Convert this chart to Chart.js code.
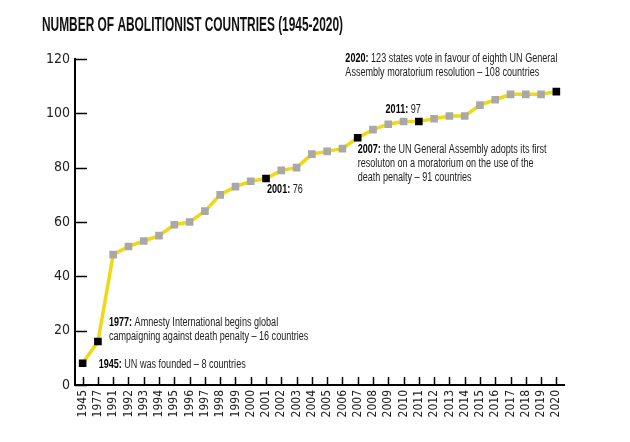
<!DOCTYPE html>
<html>
<head>
<meta charset="utf-8">
<script src="https://cdn.jsdelivr.net/npm/chart.js@4/dist/chart.umd.min.js"></script>
<style>
  html, body { margin: 0; padding: 0; background: #fff; }
  #wrap { width: 630px; height: 442px; position: relative; }
</style>
</head>
<body>
<div id="wrap"><canvas id="chart" width="630" height="442"></canvas></div>
<script>
// Data
const chartTitle = 'NUMBER OF ABOLITIONIST COUNTRIES (1945-2020)';
const years = ['1945', '1977', '1991', '1992', '1993', '1994', '1995', '1996', '1997', '1998',
  '1999', '2000', '2001', '2002', '2003', '2004', '2005', '2006', '2007', '2008', '2009',
  '2010', '2011', '2012', '2013', '2014', '2015', '2016', '2017', '2018', '2019', '2020'];
const abolitionist = [8, 16, 48, 51, 53, 55, 59, 60, 64, 70,
  73, 75, 76, 79, 80, 85, 86, 87, 91, 94, 96,
  97, 97, 98, 99, 99, 103, 105, 107, 107, 107, 108];
const yTicks = [0, 20, 40, 60, 80, 100, 120];

// Milestones shown with black markers and a note
const noteYears = ['1945', '1977', '2001', '2007', '2011', '2020'];
const noteLeads = ['1945:', '1977:', '2001:', '2007:', '2011:', '2020:'];
const noteTexts = [
  ['UN was founded – 8 countries'],
  ['Amnesty International begins global', 'campaigning against death penalty – 16 countries'],
  ['76'],
  ['the UN General Assembly adopts its first', 'resoluton on a moratorium on the use of the', 'death penalty – 91 countries'],
  ['97'],
  ['123 states vote in favour of eighth UN General', 'Assembly moratorium resolution – 108 countries']
];

const TICK_FONT = "'DejaVu Sans Condensed', 'Liberation Sans Narrow', sans-serif";
const TEXT_FONT = "'Liberation Sans', Arial, sans-serif";
const YELLOW = '#efd915';
const GREY = '#a8a8a8';

// where each note sits relative to its marker: dx, dy of first line, align
const notePlacement = {
  '1945': { dx: 16, dy: 1, align: 'left' },
  '1977': { dx: 11, dy: -19, align: 'left' },
  '2001': { dx: 1, dy: 11, align: 'left' },
  '2007': { dx: 0, dy: 12, align: 'left' },
  '2011': { dx: 2, dy: -12, align: 'right' },
  '2020': { dx: -211, dy: -33, align: 'left' }
};

// condensed text: the original uses a narrow gothic, so squeeze horizontally
function condensedLine(ctx, x, y, lead, rest, align, squeeze) {
  ctx.save();
  ctx.textBaseline = 'middle';
  ctx.textAlign = 'left';
  ctx.font = `bold 12px ${TEXT_FONT}`;
  const leadW = lead ? ctx.measureText(lead + ' ').width : 0;
  ctx.font = `12px ${TEXT_FONT}`;
  const restW = ctx.measureText(rest).width;
  const total = (leadW + restW) * squeeze;
  const startX = align === 'right' ? x - total : x;
  ctx.translate(startX, y);
  ctx.scale(squeeze, 1);
  if (lead) {
    ctx.font = `bold 12px ${TEXT_FONT}`;
    ctx.fillStyle = '#000';
    ctx.fillText(lead, 0, 0);
  }
  ctx.font = `12px ${TEXT_FONT}`;
  ctx.fillStyle = '#222';
  ctx.fillText(rest, leadW, 0);
  ctx.restore();
}

// tick marks pointing into the plot, like the original
const innerTicks = {
  id: 'innerTicks',
  beforeDatasetsDraw(chart) {
    const { ctx, chartArea, scales: { x, y } } = chart;
    ctx.save();
    ctx.strokeStyle = '#000';
    ctx.lineWidth = 1.5;
    ctx.beginPath();
    x.ticks.forEach((t, i) => {
      const px = Math.round(x.getPixelForTick(i)) + 0.5;
      ctx.moveTo(px, chartArea.bottom);
      ctx.lineTo(px, chartArea.bottom - 8);
    });
    y.ticks.forEach((t, i) => {
      const py = Math.round(y.getPixelForTick(i)) + 0.5;
      ctx.moveTo(chartArea.left, py);
      ctx.lineTo(chartArea.left + 12, py);
    });
    ctx.stroke();
    ctx.restore();
  }
};

const notes = {
  id: 'notes',
  afterDatasetsDraw(chart) {
    const { ctx } = chart;
    const meta = chart.getDatasetMeta(0);
    noteYears.forEach((yr, i) => {
      const pt = meta.data[years.indexOf(yr)];
      const place = notePlacement[yr];
      noteTexts[i].forEach((line, j) => {
        condensedLine(ctx, pt.x + place.dx, pt.y + place.dy + j * 14,
          j === 0 ? noteLeads[i] : '', line, place.align, 0.755);
      });
    });
  },
  afterDraw(chart) {
    // heading, squeezed to the width of the original condensed face
    const { ctx } = chart;
    ctx.save();
    ctx.font = `bold 21px ${TEXT_FONT}`;
    ctx.fillStyle = '#111';
    ctx.textBaseline = 'middle';
    const w = ctx.measureText(chartTitle).width;
    ctx.translate(42, 25);
    ctx.scale(301 / w, 1);
    ctx.fillText(chartTitle, 0, 0);
    ctx.restore();
  }
};

const pointColors = years.map((yr) => noteYears.includes(yr) ? '#000' : GREY);

// eslint-disable-next-line no-undef
new Chart(document.getElementById('chart'), {
  type: 'line',
  data: {
    labels: years,
    datasets: [{
      data: abolitionist,
      borderColor: YELLOW,
      borderWidth: 3.5,
      tension: 0,
      pointStyle: 'rect',
      pointRadius: 5.4,
      pointBorderWidth: 0,
      pointBackgroundColor: pointColors,
      pointBorderColor: pointColors
    }]
  },
  options: {
    responsive: false,
    animation: false,
    layout: { padding: { left: 0, right: 66, top: 59, bottom: 20 } },
    plugins: {
      legend: { display: false },
      tooltip: { enabled: false },
      title: { display: false }
    },
    scales: {
      x: {
        type: 'category',
        offset: true,
        grid: { display: false, drawTicks: false },
        border: { display: true, color: '#000', width: 2 },
        ticks: {
          autoSkip: false,
          minRotation: 90,
          maxRotation: 90,
          padding: 5,
          color: '#222',
          font: { family: TICK_FONT, size: 12 }
        },
        afterFit: (scale) => { scale.height = 37; }
      },
      y: {
        min: 0,
        max: 120,
        afterBuildTicks: (scale) => { scale.ticks = yTicks.map((v) => ({ value: v })); },
        grid: { display: false, drawTicks: false },
        border: { display: true, color: '#000', width: 2 },
        ticks: {
          padding: 5,
          color: '#222',
          font: { family: TICK_FONT, size: 14 }
        },
        afterFit: (scale) => { scale.width = 75; }
      }
    }
  },
  plugins: [innerTicks, notes]
});
</script>
</body>
</html>
